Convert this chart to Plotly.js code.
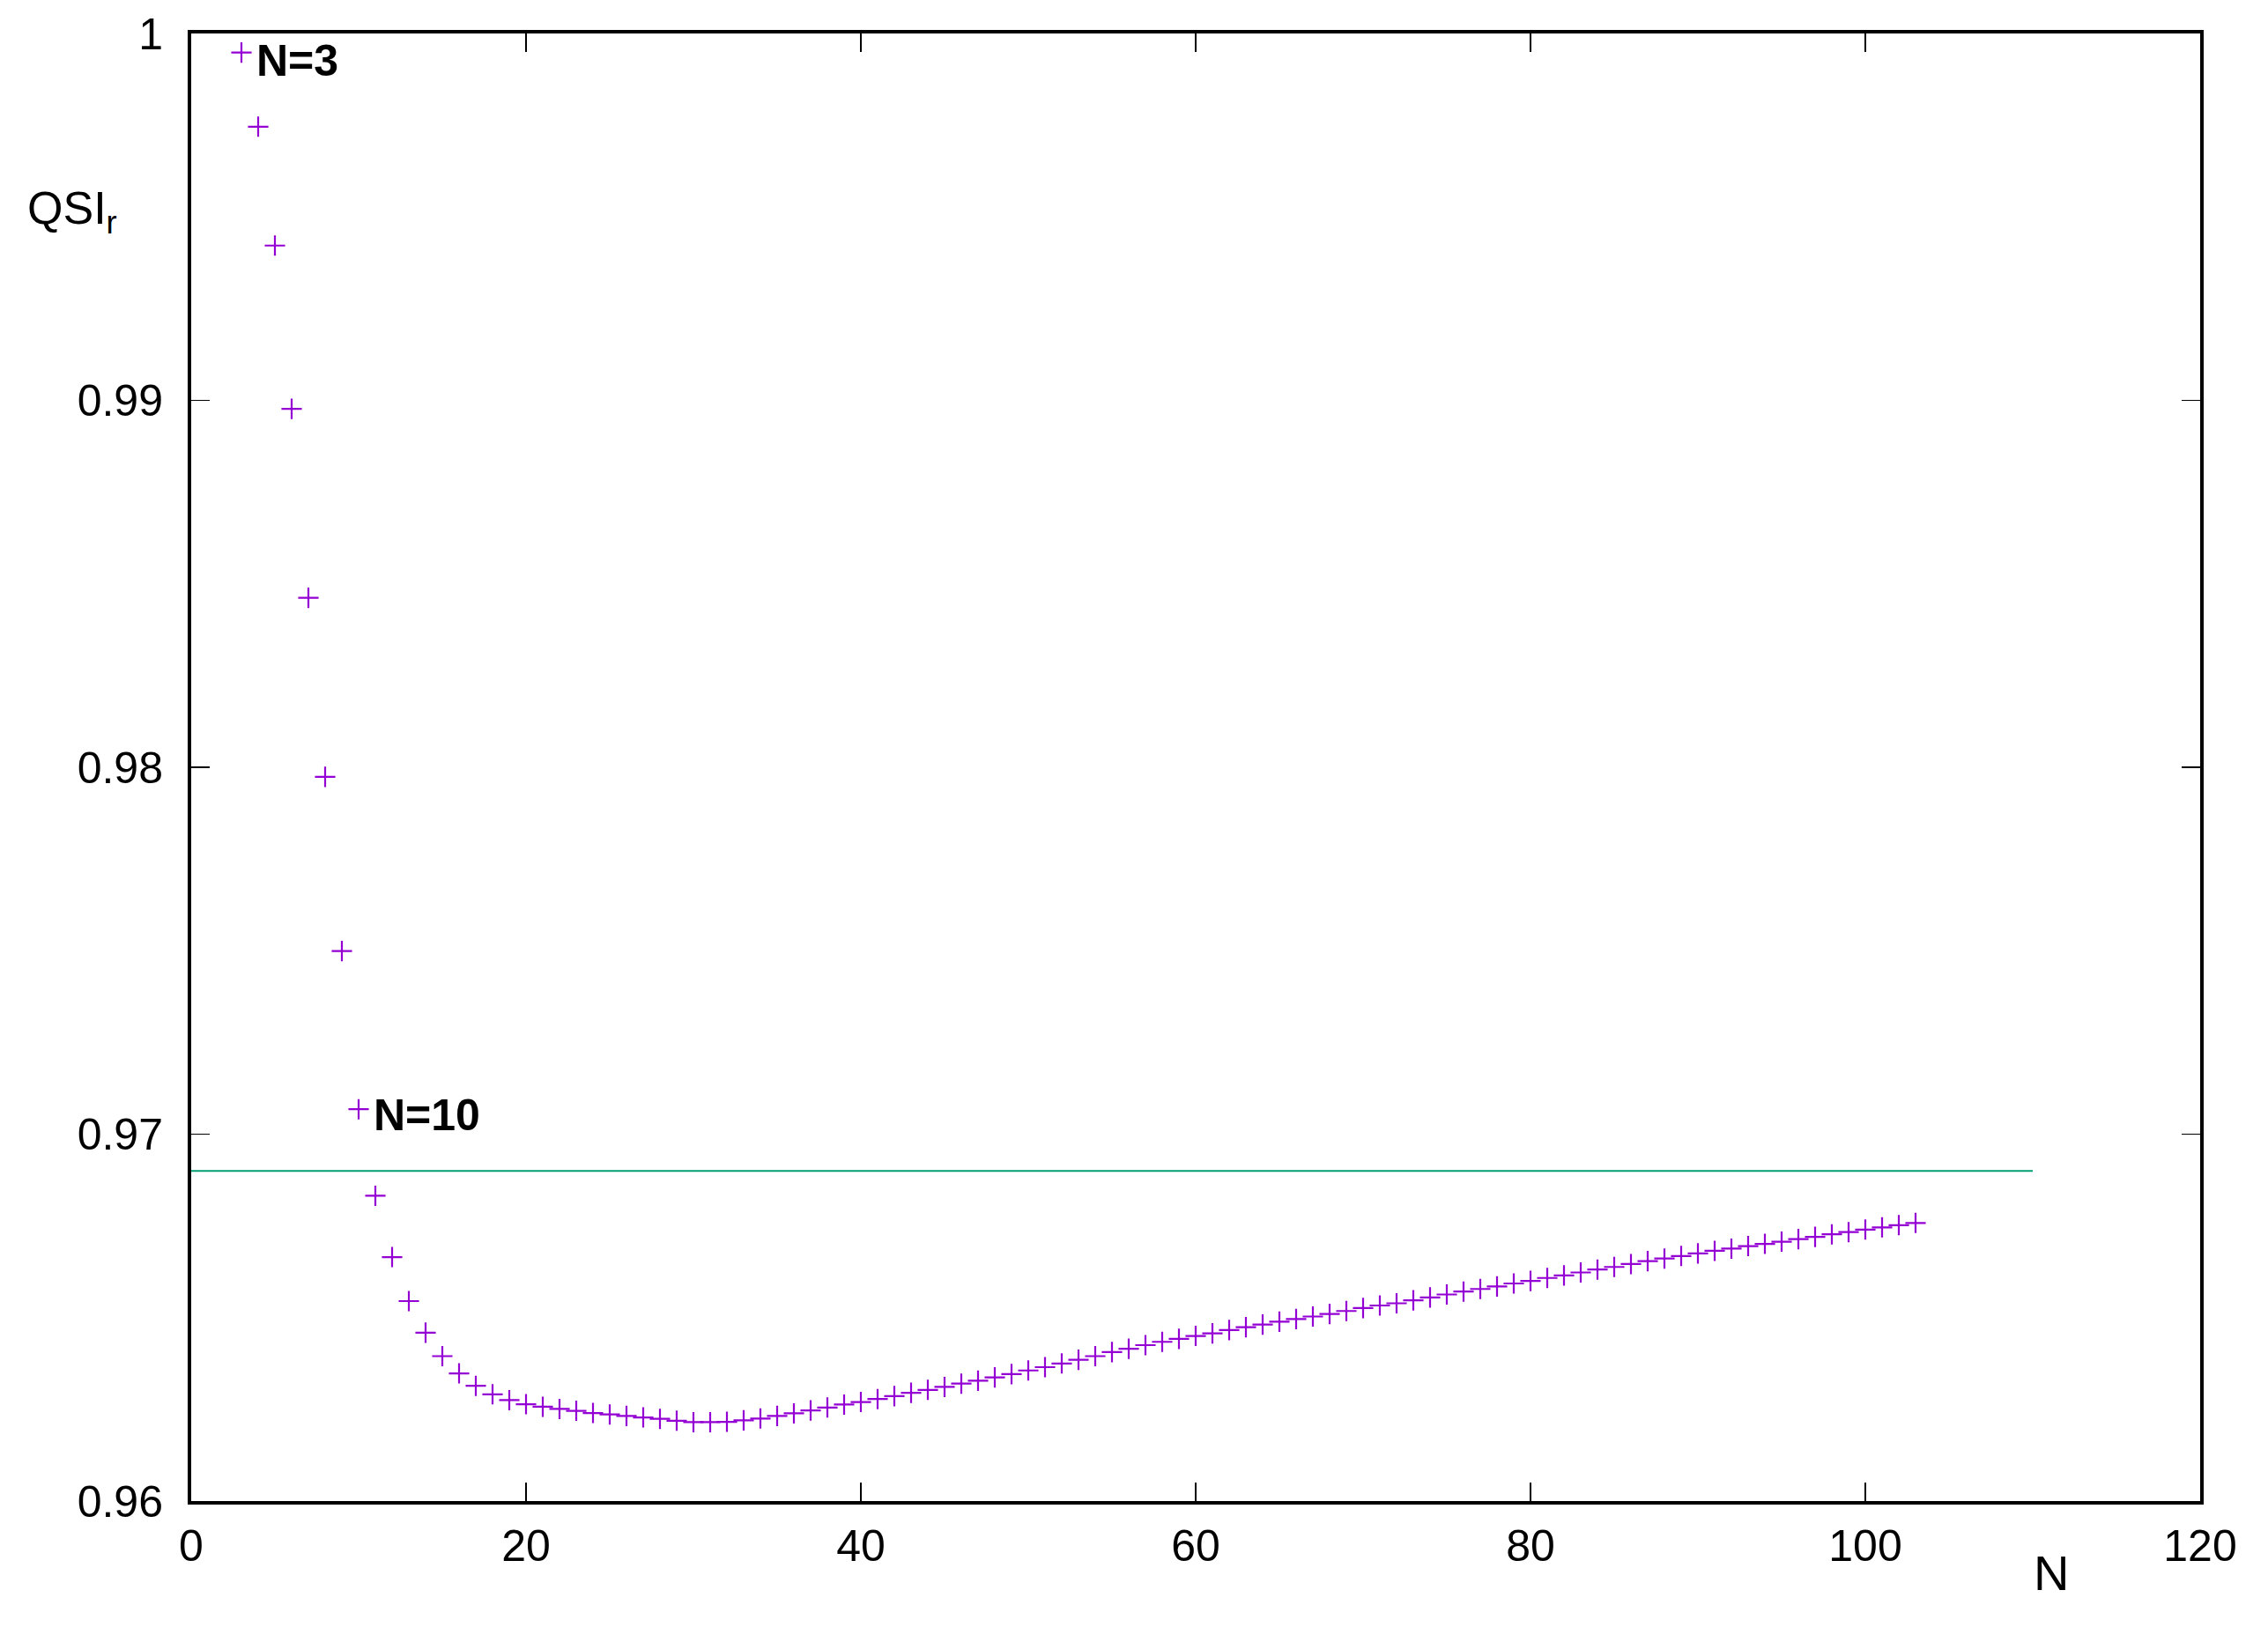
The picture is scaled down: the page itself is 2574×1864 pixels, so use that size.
<!DOCTYPE html>
<html>
<head>
<meta charset="utf-8">
<script src="https://cdn.plot.ly/plotly-3.0.1.min.js"></script>
<style>
  html, body { margin: 0; padding: 0; background: #fff; }
  #chart { width: 2574px; height: 1864px; }
</style>
</head>
<body>
<div id="chart"></div>
<script>
// N values and the QSI_r
const nValues = [
  3, 4, 5, 6, 7, 8, 9, 10, 11, 12, 13, 14, 15, 16, 17, 18, 19, 20,
  21, 22, 23, 24, 25, 26, 27, 28, 29, 30, 31, 32, 33, 34, 35, 36, 37, 38, 39, 40,
  41, 42, 43, 44, 45, 46, 47, 48, 49, 50, 51, 52, 53, 54, 55, 56, 57, 58, 59, 60,
  61, 62, 63, 64, 65, 66, 67, 68, 69, 70, 71, 72, 73, 74, 75, 76, 77, 78, 79, 80,
  81, 82, 83, 84, 85, 86, 87, 88, 89, 90, 91, 92, 93, 94, 95, 96, 97, 98, 99, 100,
  101, 102, 103
]
const qsiValues = [
  0.99948, 0.99746, 0.99422, 0.98977, 0.98462, 0.97974, 0.97499, 0.97068,
  0.96832, 0.96665, 0.96545, 0.96459, 0.96395, 0.96348, 0.96314, 0.96291, 0.96275, 0.96264,
  0.96257, 0.96251, 0.96246, 0.96240, 0.96236, 0.96232, 0.96228, 0.96224, 0.96219, 0.96215,
  0.96215, 0.96216, 0.96220, 0.96225, 0.96232, 0.96239, 0.96247, 0.96255, 0.96263, 0.96270,
  0.96278, 0.96286, 0.96295, 0.96303, 0.96311, 0.96320, 0.96328, 0.96337, 0.96346, 0.96356,
  0.96365, 0.96375, 0.96385, 0.96395, 0.96406, 0.96415, 0.96425, 0.96434, 0.96442, 0.96450,
  0.96457, 0.96466, 0.96474, 0.96481, 0.96489, 0.96496, 0.96503, 0.96510, 0.96518, 0.96526,
  0.96533, 0.96539, 0.96547, 0.96555, 0.96563, 0.96571, 0.96578, 0.96585, 0.96593, 0.96600,
  0.96608, 0.96615, 0.96623, 0.96631, 0.96638, 0.96646, 0.96654, 0.96661, 0.96668, 0.96675,
  0.96682, 0.96688, 0.96695, 0.96701, 0.96707, 0.96714, 0.96720, 0.96727, 0.96733, 0.96740,
  0.96746, 0.96752, 0.96758
]

// horizontal reference level
const refX = [0, 110]
const refY = [0.969, 0.969]

const xTicks = [0, 20, 40, 60, 80, 100, 120]
const yTicks = [0.96, 0.97, 0.98, 0.99, 1]
const yTickText = ["0.96", "0.97", "0.98", "0.99", "1"]

const FONT = "Liberation Sans, Arial, sans-serif"

const data = [
  {
    x: refX,
    y: refY,
    mode: "lines",
    line: { color: "#009e73", width: 2 },
    hoverinfo: "skip",
  },
  {
    x: nValues,
    y: qsiValues,
    mode: "markers",
    marker: {
      symbol: "cross-thin",
      size: 16.5,
      color: "#9400d3",
      line: { color: "#9400d3", width: 2.2 },
    },
  },
]

const axisCommon = {
  showgrid: false,
  zeroline: false,
  showline: true,
  linecolor: "#000",
  linewidth: 4,
  mirror: "ticks",
  ticks: "inside",
  ticklen: 21,
  tickwidth: 1.5,
  tickcolor: "#000",
  tickfont: { family: FONT, size: 50, color: "#000" },
}

const layout = {
  width: 2574,
  height: 1864,
  margin: { l: 217, r: 77, t: 38, b: 160 },
  paper_bgcolor: "#fff",
  plot_bgcolor: "#fff",
  showlegend: false,
  font: { family: FONT, color: "#000" },
  xaxis: Object.assign({}, axisCommon, {
    range: [0, 120],
    tickvals: xTicks,
    ticktext: xTicks.map(String),
    ticklabelstandoff: 4,
  }),
  yaxis: Object.assign({}, axisCommon, {
    range: [0.96, 1.0],
    tickvals: yTicks,
    ticktext: yTickText,
    ticklabelstandoff: 18,
  }),
  annotations: [
    {
      text: "<b>N=3</b>",
      x: 3.8, y: 0.99925, xref: "x", yref: "y",
      xanchor: "left", yanchor: "middle", showarrow: false,
      font: { family: FONT, size: 50, color: "#000" },
    },
    {
      text: "<b>N=10</b>",
      x: 10.8, y: 0.97052, xref: "x", yref: "y",
      xanchor: "left", yanchor: "middle", showarrow: false,
      font: { family: FONT, size: 50, color: "#000" },
    },
    {
      text: "QSI<sub>r</sub>",
      x: -0.0826, y: 0.879, xref: "paper", yref: "paper",
      xanchor: "left", yanchor: "middle", showarrow: false,
      font: { family: FONT, size: 52, color: "#000" },
    },
    {
      text: "N",
      x: 0.9259, y: -0.0492, xref: "paper", yref: "paper",
      xanchor: "center", yanchor: "middle", showarrow: false,
      font: { family: FONT, size: 56, color: "#000" },
    },
  ],
}

Plotly.newPlot("chart", data, layout, { displayModeBar: false, staticPlot: true })
</script>
</body>
</html>
